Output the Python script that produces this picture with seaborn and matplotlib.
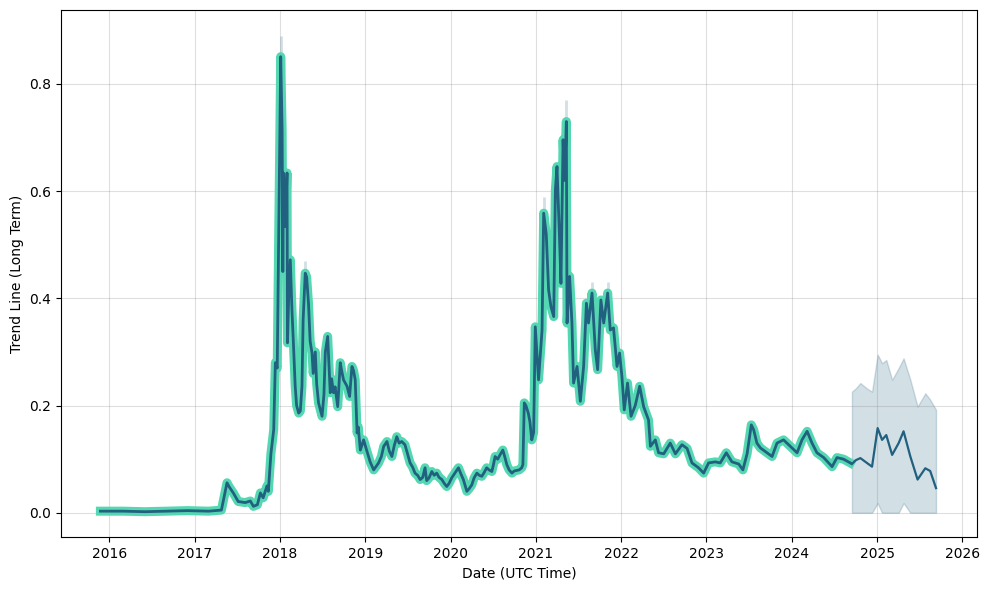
import matplotlib
matplotlib.use('Agg')
import matplotlib.pyplot as plt
import pandas as pd
import seaborn as sns

# historical trend line
hist_dates = [
    '2015-11-24', '2016-03-01', '2016-06-01', '2016-09-01', '2016-12-01', '2017-03-01', '2017-04-25',
    '2017-05-19', '2017-05-29', '2017-06-15', '2017-07-06', '2017-08-05', '2017-08-27', '2017-09-09',
    '2017-09-26', '2017-10-09', '2017-10-21', '2017-11-06', '2017-11-12', '2017-11-23', '2017-12-05',
    '2017-12-12', '2017-12-20', '2018-01-04', '2018-01-10', '2018-01-13', '2018-01-16', '2018-01-24',
    '2018-01-31', '2018-02-02', '2018-02-07', '2018-02-14', '2018-02-21', '2018-02-27', '2018-03-07',
    '2018-03-13', '2018-03-22', '2018-03-29', '2018-04-05', '2018-04-10', '2018-04-19', '2018-04-25',
    '2018-05-03', '2018-05-10', '2018-05-18', '2018-05-23', '2018-06-01', '2018-06-07', '2018-06-15',
    '2018-06-30', '2018-07-08', '2018-07-14', '2018-07-24', '2018-08-04', '2018-08-10', '2018-08-18',
    '2018-08-25', '2018-09-05', '2018-09-16', '2018-09-22', '2018-09-30', '2018-10-15', '2018-10-26',
    '2018-11-05', '2018-11-12', '2018-11-19', '2018-11-27', '2018-12-02', '2018-12-11', '2018-12-25',
    '2019-01-08', '2019-01-22', '2019-02-06', '2019-02-27', '2019-03-11', '2019-03-21', '2019-04-04',
    '2019-04-14', '2019-04-25', '2019-05-05', '2019-05-16', '2019-05-26', '2019-06-06', '2019-06-20',
    '2019-07-01', '2019-07-12', '2019-07-23', '2019-08-02', '2019-08-13', '2019-08-24', '2019-09-04',
    '2019-09-14', '2019-09-21', '2019-10-01', '2019-10-13', '2019-10-23', '2019-11-03', '2019-11-13',
    '2019-11-25', '2019-12-05', '2019-12-16', '2019-12-26', '2020-01-06', '2020-01-21', '2020-02-04',
    '2020-02-15', '2020-02-25', '2020-03-11', '2020-03-21', '2020-04-01', '2020-04-11', '2020-04-23',
    '2020-05-03', '2020-05-14', '2020-05-24', '2020-06-04', '2020-06-14', '2020-06-26', '2020-07-03',
    '2020-07-10', '2020-07-21', '2020-07-31', '2020-08-12', '2020-08-20', '2020-08-29', '2020-09-08',
    '2020-09-20', '2020-09-30', '2020-10-11', '2020-10-21', '2020-11-01', '2020-11-06', '2020-11-12',
    '2020-11-19', '2020-11-29', '2020-12-06', '2020-12-14', '2020-12-22', '2020-12-29', '2021-01-12',
    '2021-01-27', '2021-02-03', '2021-02-14', '2021-02-24', '2021-03-06', '2021-03-18', '2021-03-25',
    '2021-04-01', '2021-04-12', '2021-04-18', '2021-04-27', '2021-05-04', '2021-05-11', '2021-05-14',
    '2021-05-25', '2021-06-04', '2021-06-11', '2021-06-26', '2021-07-10', '2021-07-24', '2021-08-05',
    '2021-08-14', '2021-08-29', '2021-09-12', '2021-09-22', '2021-10-06', '2021-10-18', '2021-11-04',
    '2021-11-15', '2021-11-29', '2021-12-14', '2021-12-25', '2022-01-04', '2022-01-14', '2022-01-28',
    '2022-02-12', '2022-03-02', '2022-03-21', '2022-04-07', '2022-04-28', '2022-05-06', '2022-05-27',
    '2022-06-10', '2022-07-02', '2022-07-30', '2022-08-21', '2022-09-18', '2022-10-10', '2022-10-31',
    '2022-11-28', '2022-12-20', '2023-01-10', '2023-02-08', '2023-03-01', '2023-03-27', '2023-04-20',
    '2023-05-19', '2023-06-06', '2023-06-24', '2023-07-12', '2023-07-22', '2023-08-05', '2023-08-20',
    '2023-09-17', '2023-10-09', '2023-10-30', '2023-11-27', '2023-12-26', '2024-01-24', '2024-02-14',
    '2024-03-07', '2024-03-28', '2024-04-18', '2024-05-17', '2024-06-22', '2024-07-13', '2024-08-10',
    '2024-09-08',
]
hist_values = [
    0.003, 0.003, 0.002, 0.003, 0.004, 0.003, 0.005,
    0.056, 0.048, 0.037, 0.021, 0.019, 0.022, 0.012,
    0.015, 0.037, 0.028, 0.050, 0.040, 0.110, 0.155,
    0.280, 0.270, 0.851, 0.714, 0.450, 0.634, 0.534,
    0.634, 0.317, 0.400, 0.472, 0.379, 0.320, 0.236,
    0.200, 0.186, 0.190, 0.236, 0.360, 0.447, 0.440,
    0.390, 0.320, 0.298, 0.260, 0.300, 0.240, 0.205,
    0.180, 0.220, 0.300, 0.329, 0.224, 0.250, 0.224,
    0.235, 0.198, 0.280, 0.265, 0.248, 0.236, 0.217,
    0.273, 0.265, 0.248, 0.149, 0.160, 0.117, 0.136,
    0.115, 0.095, 0.080, 0.093, 0.105, 0.124, 0.133,
    0.115, 0.105, 0.125, 0.142, 0.130, 0.133, 0.127,
    0.110, 0.093, 0.085, 0.074, 0.070, 0.062, 0.066,
    0.084, 0.060, 0.065, 0.077, 0.070, 0.074, 0.066,
    0.062, 0.055, 0.049, 0.055, 0.065, 0.075, 0.084,
    0.072, 0.062, 0.040, 0.045, 0.052, 0.065, 0.074,
    0.070, 0.068, 0.075, 0.084, 0.080, 0.077, 0.090,
    0.105, 0.100, 0.108, 0.117, 0.105, 0.090, 0.080,
    0.074, 0.078, 0.079, 0.080, 0.084, 0.090, 0.205,
    0.200, 0.186, 0.170, 0.136, 0.150, 0.347, 0.248,
    0.341, 0.559, 0.520, 0.416, 0.385, 0.366, 0.602,
    0.646, 0.509, 0.428, 0.696, 0.620, 0.730, 0.354,
    0.441, 0.354, 0.242, 0.273, 0.208, 0.273, 0.391,
    0.354, 0.410, 0.304, 0.267, 0.397, 0.354, 0.410,
    0.341, 0.345, 0.273, 0.298, 0.254, 0.192, 0.242,
    0.180, 0.200, 0.236, 0.198, 0.173, 0.124, 0.136,
    0.112, 0.110, 0.130, 0.110, 0.127, 0.120, 0.093,
    0.084, 0.074, 0.093, 0.095, 0.093, 0.112, 0.095,
    0.091, 0.080, 0.110, 0.164, 0.155, 0.130, 0.121,
    0.112, 0.105, 0.130, 0.136, 0.124, 0.112, 0.136,
    0.152, 0.130, 0.112, 0.103, 0.086, 0.103, 0.100,
    0.093,
]

# faint high spikes around the historical line
spike_dates = ['2018-01-04', '2018-04-19', '2021-02-03', '2021-05-11', '2021-08-29', '2021-11-04']
spike_lows = [0.80, 0.42, 0.53, 0.70, 0.39, 0.39]
spike_highs = [0.89, 0.47, 0.59, 0.77, 0.43, 0.43]

# forecast with its interval
fc_dates = [
    '2024-09-15', '2024-10-01', '2024-10-21', '2024-11-18', '2024-12-10', '2025-01-03', '2025-01-22',
    '2025-02-09', '2025-03-06', '2025-04-03', '2025-04-24', '2025-05-23', '2025-06-23', '2025-07-26',
    '2025-08-16', '2025-09-10',
]
fc_values = [0.091, 0.098, 0.102, 0.093, 0.086, 0.158, 0.136, 0.145, 0.108, 0.130, 0.152, 0.105, 0.062,
             0.083, 0.078, 0.046]
fc_upper = [0.226, 0.232, 0.242, 0.232, 0.226, 0.295, 0.279, 0.285, 0.248, 0.270, 0.288, 0.248, 0.198,
            0.223, 0.211, 0.192]
fc_lower = [0.0, 0.0, 0.0, 0.0, 0.0, 0.018, 0.0, 0.0, 0.0, 0.0, 0.018, 0.0, 0.0, 0.0, 0.0, 0.0]

teal = '#55d8b2'
navy = '#21607f'

hist_df = pd.DataFrame({'date': pd.to_datetime(hist_dates), 'value': hist_values})
fc_df = pd.DataFrame({'date': pd.to_datetime(fc_dates), 'value': fc_values,
                      'upper': fc_upper, 'lower': fc_lower})

fig, ax = plt.subplots(figsize=(9.87, 5.9), dpi=100)

ax.vlines(pd.to_datetime(spike_dates), spike_lows, spike_highs, color=navy, alpha=0.2, lw=2)
sns.lineplot(data=hist_df, x='date', y='value', ax=ax, color=teal, lw=6.5, solid_joinstyle='round')
sns.lineplot(data=hist_df, x='date', y='value', ax=ax, color=navy, lw=2)

ax.fill_between(fc_df['date'], fc_df['lower'], fc_df['upper'], color=navy, alpha=0.2, lw=1)
sns.lineplot(data=fc_df, x='date', y='value', ax=ax, color=navy, lw=1.6)

ax.grid(True, color='gray', alpha=0.25)
ax.set_xlim(pd.Timestamp('2015-06-09'), pd.Timestamp('2026-03-05'))
ax.set_ylim(-0.045, 0.938)
ax.set_xlabel('Date (UTC Time)')
ax.set_ylabel('Trend Line (Long Term)')

fig.subplots_adjust(left=0.062, right=0.99, top=0.983, bottom=0.09)
fig.savefig('out.png')
